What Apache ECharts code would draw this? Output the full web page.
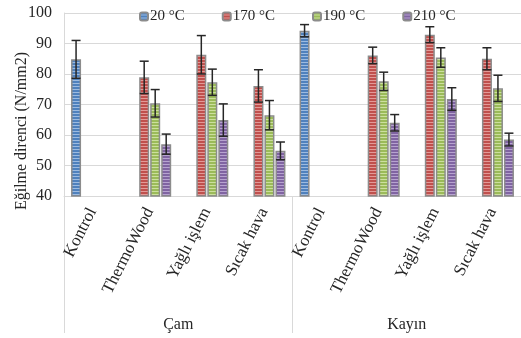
<!DOCTYPE html>
<html><head><meta charset="utf-8">
<script src="https://cdn.jsdelivr.net/npm/echarts@6/dist/echarts.min.js"></script>
<style>html,body{margin:0;padding:0;background:#fff}#c{width:521px;height:338px}</style>
</head><body><div id="c"></div>
<script>
const categories = ['Kontrol','ThermoWood','Yağlı işlem','Sıcak hava','Kontrol','ThermoWood','Yağlı işlem','Sıcak hava'];
const groups = ['Çam','Kayın'];
const seriesNames = ['20 °C','170 °C','190 °C','210 °C'];
const v20  = [84.8,'-','-','-',94.2,'-','-','-'];
const v170 = ['-',78.9,86.3,76.1,'-',86.1,92.9,85.0];
const v190 = ['-',70.4,77.3,66.5,'-',77.6,85.4,75.3];
const v210 = ['-',57.0,64.9,54.8,'-',64.0,71.8,58.5];
const e20  = [6.2,'-','-','-',2.0,'-','-','-'];
const e170 = ['-',5.3,6.3,5.3,'-',2.7,2.6,3.6];
const e190 = ['-',4.5,4.3,4.8,'-',3.0,3.2,4.3];
const e210 = ['-',3.3,5.3,2.9,'-',2.7,3.7,2.1];
const yTicks = {min:40, max:100, interval:10};

const FONT = "'Liberation Serif','Times New Roman',serif";
const values = [v20,v170,v190,v210];
const errs = [e20,e170,e190,e210];
const baseCols = ['#4F81BD','#C0504D','#9BBB59','#8064A2'];
const lightCols = ['#9DBBE0','#E39A98','#CCE09E','#B7A3D0'];

function pattern(base, light){
  const c = document.createElement('canvas');
  c.width = 4; c.height = 3;
  const g = c.getContext('2d');
  g.fillStyle = base; g.fillRect(0,0,4,3);
  g.fillStyle = light; g.fillRect(0,2,4,1);
  return {image:c, repeat:'repeat'};
}

const chart = echarts.init(document.getElementById('c'), null, {renderer:'canvas'});
const series = [];
values.forEach((vals,k)=>{
  series.push({
    name: seriesNames[k], type:'bar', data: vals, barWidth:10, barGap:'10%',
    itemStyle:{color: pattern(baseCols[k], lightCols[k]), borderColor:'#8c8c8c', borderWidth:1.5},
    z:2
  });
});
errs.forEach((ev,k)=>{
  const data = [];
  ev.forEach((e,i)=>{ if(e !== '-') data.push([i, values[k][i], e]); });
  series.push({
    type:'custom', xAxisIndex:0, yAxisIndex:0, z:5, silent:true,
    data: data,
    renderItem: function(params, api){
      const i = api.value(0), v = api.value(1), e = api.value(2);
      const off = (k-1.5)*11;
      const top = api.coord([i, v+e]);
      const bot = api.coord([i, v-e]);
      const x = top[0] + off;
      const hw = 4.5;
      const st = {stroke:'#262626', lineWidth:1.5};
      return {type:'group', children:[
        {type:'line', shape:{x1:x,y1:top[1],x2:x,y2:bot[1]}, style:st},
        {type:'line', shape:{x1:x-hw,y1:top[1],x2:x+hw,y2:top[1]}, style:st},
        {type:'line', shape:{x1:x-hw,y1:bot[1],x2:x+hw,y2:bot[1]}, style:st}
      ]};
    }
  });
});

chart.setOption({
  animation:false,
  textStyle:{fontFamily:FONT},
  legend:{
    data: seriesNames, left:134, top:4, itemWidth:8, itemHeight:8, itemGap:37,
    textStyle:{fontFamily:FONT, fontSize:15, color:'#262626', padding:[0,0,0,-3]}
  },
  grid:{left:64, right:-9, top:13, bottom:142},
  xAxis:[
    {type:'category', data: categories, position:'bottom',
     axisLine:{show:true, lineStyle:{color:'#d9d9d9', width:1}},
     axisTick:{show:false},
     axisLabel:{interval:0, rotate:63, margin:13, fontFamily:FONT, fontSize:17, color:'#262626'}},
    {type:'category', data: groups, position:'bottom', offset:137,
     axisLine:{show:false},
     axisTick:{show:true, inside:true, length:137, lineStyle:{color:'#d9d9d9', width:1}},
     axisLabel:{inside:true, margin:0, fontFamily:FONT, fontSize:16, color:'#262626'}}
  ],
  yAxis:{type:'value', min:yTicks.min, max:yTicks.max, interval:yTicks.interval,
    axisLine:{show:true, lineStyle:{color:'#d9d9d9'}},
    axisTick:{show:false},
    splitLine:{lineStyle:{color:'#d9d9d9', width:1}},
    axisLabel:{margin:12, fontFamily:FONT, fontSize:16, color:'#262626'}},
  graphic:[{type:'text', x:22, y:131, rotation:Math.PI/2,
    style:{text:'Eğilme direnci (N/mm2)', font:'16px '+FONT, fill:'#262626', textAlign:'center', textVerticalAlign:'middle'}}],
  series: series
});
</script></body></html>
